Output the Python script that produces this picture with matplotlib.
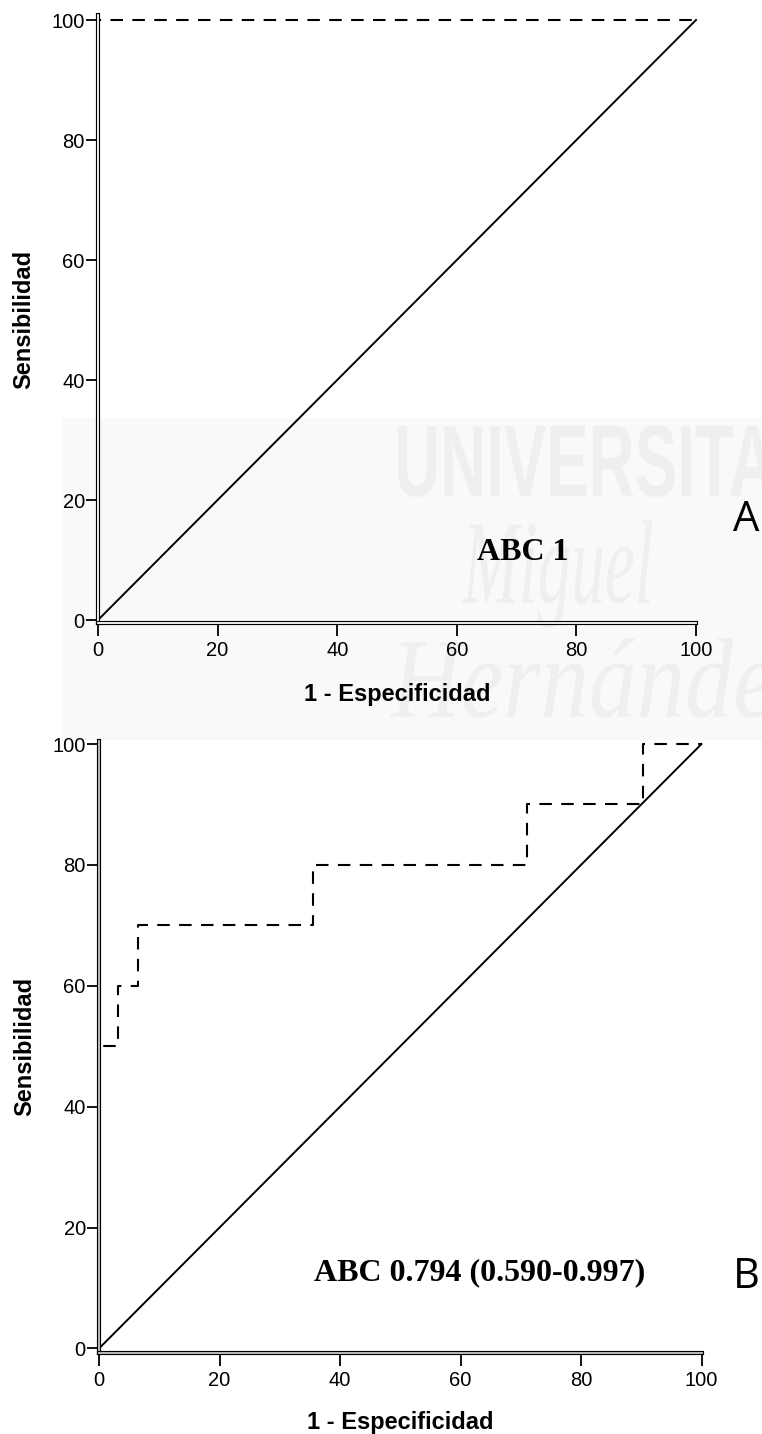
import matplotlib
matplotlib.use('Agg')
import matplotlib.pyplot as plt
from matplotlib import patheffects
from matplotlib.textpath import TextPath
from matplotlib.font_manager import FontProperties
from matplotlib.patches import PathPatch, Rectangle
from matplotlib.transforms import Affine2D, IdentityTransform

W, H = 762, 1434

# chance line
diag_x = [0, 100]
diag_y = [0, 100]

# ROC curve, panel A
roc_a_fpr = [0, 0, 100]
roc_a_tpr = [0, 100, 100]

# ROC curve, panel B (10 positives, 31 negatives)
roc_b_fpr = [0, 0, 3.23, 3.23, 6.45, 6.45, 35.48, 35.48, 70.97, 70.97, 90.32, 90.32, 100]
roc_b_tpr = [0, 50, 50, 60, 60, 70, 70, 80, 80, 90, 90, 100, 100]

ticks = [0, 20, 40, 60, 80, 100]
auc_labels = ['ABC 1', 'ABC 0.794 (0.590-0.997)']
auc_pos = [(71.0, 10.0), (63.1, 11.3)]
panel_letters = ['A', 'B']
xlabel = '1 - Especificidad'
ylabel = 'Sensibilidad'

plt.rcParams['font.family'] = ['Liberation Sans', 'DejaVu Sans']

fig = plt.figure(figsize=(W / 100, H / 100), dpi=100)
fig.patch.set_facecolor('white')


def px_axes(x0, x1, ybot, ytop):
    # axes rectangle given in pixel coordinates (origin top-left)
    return fig.add_axes([x0 / W, 1 - ybot / H, (x1 - x0) / W, (ybot - ytop) / H])


def faint_word(s, box, prop, color='#efefef'):
    # stretch a word into a pixel box (x0, ytop, x1, ybot), drawn behind everything
    tp = TextPath((0, 0), s, size=100, prop=prop)
    bb = tp.get_extents()
    x0, yt, x1, yb = box
    tr = (Affine2D().translate(-bb.x0, -bb.y0)
          .scale((x1 - x0) / bb.width, (yb - yt) / bb.height)
          .translate(x0, H - yb))
    p = PathPatch(tr.transform_path(tp), fc=color, ec='none',
                  transform=IdentityTransform(), zorder=-2)
    fig.add_artist(p)


# faint watermark band
band = Rectangle((62 / W, 1 - 740 / H), (W - 62) / W, (740 - 418) / H,
                 transform=fig.transFigure, fc='#f9f9f9', ec='none', zorder=-3)
fig.add_artist(band)
faint_word('UNIVERSITAS', (398, 425, 815, 497), FontProperties(family='Liberation Sans', weight='bold'))
faint_word('Miguel', (462, 520, 652, 628), FontProperties(family='Liberation Serif', style='italic'))
faint_word('Hernández', (390, 638, 812, 718), FontProperties(family='Liberation Serif', style='italic'))

panels = [
    dict(ax=px_axes(98, 696, 622.7, 15.2), ylim=(-0.45, 100.8), inner='white',
         fpr=roc_a_fpr, tpr=roc_a_tpr, xlab_y=-0.099, letter_xy=(746, 520)),
    dict(ax=px_axes(99, 701.5, 1352.7, 741), ylim=(-0.7, 100.5), inner='#c8c8c8',
         fpr=roc_b_fpr, tpr=roc_b_tpr, xlab_y=-0.095, letter_xy=(746, 1277)),
]

for i, p in enumerate(panels):
    ax = p['ax']
    ax.set_facecolor('none')
    ax.plot(diag_x, diag_y, color='black', lw=1.4, clip_on=False)
    ax.plot(p['fpr'], p['tpr'], color='black', lw=1.5,
            linestyle=(0, (6, 4.5)), clip_on=False)
    ax.set_xlim(0, 100)
    ax.set_ylim(*p['ylim'])
    ax.set_xticks(ticks)
    ax.set_yticks(ticks)

    for side in ('top', 'right'):
        ax.spines[side].set_visible(False)
    # double-line axis look
    for side in ('left', 'bottom'):
        sp = ax.spines[side]
        sp.set_color(p['inner'])
        sp.set_linewidth(1.3)
        sp.set_path_effects([patheffects.Stroke(linewidth=3.0, foreground='black'),
                             patheffects.Normal()])

    ax.tick_params(axis='y', length=8.5, width=1.3, pad=1, labelsize=14.5, color='black')
    ax.tick_params(axis='x', length=9, width=1.3, pad=4.5, labelsize=14.5, color='black')

    ax.set_xlabel(xlabel, fontsize=17, fontweight='bold')
    ax.xaxis.set_label_coords(0.5, p['xlab_y'])
    ax.set_ylabel(ylabel, fontsize=17, fontweight='bold', va='center')
    ax.yaxis.set_label_coords(-0.124, 0.5)

    tx, ty = auc_pos[i]
    ax.text(tx, ty, auc_labels[i], ha='center', va='baseline', fontsize=23,
            fontweight='bold', family='Liberation Serif')

    lx, ly = p['letter_xy']
    fig.text(lx / W, 1 - ly / H, panel_letters[i], ha='center', va='center',
             fontsize=30, family='Open Sans')

fig.savefig('out.png', dpi=100)
